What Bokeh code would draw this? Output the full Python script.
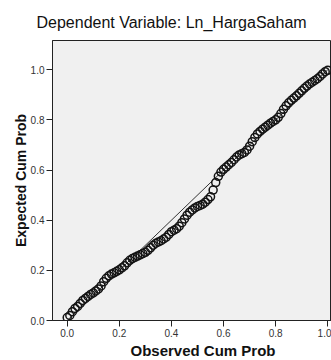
from bokeh.plotting import figure
from bokeh.models import FixedTicker, NumeralTickFormatter, Range1d, Title
from bokeh.embed import file_html
from bokeh.resources import INLINE

# Observed vs expected cumulative probability (Normal P-P plot)
observed_cum_prob = [
    0.00, 0.01, 0.02, 0.03, 0.04, 0.05, 0.06, 0.07, 0.08, 0.09,
    0.10, 0.11, 0.12, 0.13, 0.14, 0.15, 0.16, 0.17, 0.18, 0.19,
    0.20, 0.21, 0.22, 0.23, 0.24, 0.25, 0.26, 0.27, 0.28, 0.29,
    0.30, 0.31, 0.32, 0.33, 0.34, 0.35, 0.36, 0.37, 0.38, 0.39,
    0.40, 0.41, 0.42, 0.43, 0.44, 0.45, 0.46, 0.47, 0.48, 0.49,
    0.50, 0.51, 0.52, 0.53, 0.54, 0.55, 0.56, 0.57, 0.58, 0.59,
    0.60, 0.61, 0.62, 0.63, 0.64, 0.65, 0.66, 0.67, 0.68, 0.69,
    0.70, 0.71, 0.72, 0.73, 0.74, 0.75, 0.76, 0.77, 0.78, 0.79,
    0.80, 0.81, 0.82, 0.83, 0.84, 0.85, 0.86, 0.87, 0.88, 0.89,
    0.90, 0.91, 0.92, 0.93, 0.94, 0.95, 0.96, 0.97, 0.98, 0.99,
    1.00,
]
expected_cum_prob = [
    0.012, 0.020, 0.035, 0.048, 0.056, 0.068, 0.080, 0.088, 0.096, 0.104,
    0.110, 0.118, 0.126, 0.138, 0.155, 0.168, 0.178, 0.185, 0.190, 0.196,
    0.202, 0.210, 0.218, 0.230, 0.240, 0.247, 0.252, 0.257, 0.262, 0.267,
    0.272, 0.280, 0.290, 0.300, 0.308, 0.313, 0.318, 0.325, 0.332, 0.343,
    0.354, 0.360, 0.366, 0.376, 0.390, 0.405, 0.420, 0.432, 0.441, 0.449,
    0.455, 0.459, 0.464, 0.472, 0.482, 0.493, 0.520, 0.550, 0.575, 0.592,
    0.603, 0.612, 0.621, 0.630, 0.641, 0.652, 0.660, 0.665, 0.670, 0.680,
    0.695, 0.713, 0.730, 0.744, 0.754, 0.763, 0.771, 0.779, 0.787, 0.794,
    0.800, 0.810, 0.825, 0.842, 0.856, 0.868, 0.878, 0.887, 0.896, 0.906,
    0.916, 0.926, 0.935, 0.943, 0.950, 0.957, 0.964, 0.973, 0.983, 0.992,
    0.998,
]
reference_x = [0.0, 1.0]
reference_y = [0.0, 1.0]
tick_values = [0.0, 0.2, 0.4, 0.6, 0.8, 1.0]

title_text = "Dependent Variable: Ln_HargaSaham"
x_label_text = "Observed Cum Prob"
y_label_text = "Expected Cum Prob"

p = figure(
    width=331, height=360,
    x_range=Range1d(-0.0564, 1.0142), y_range=Range1d(0.0, 1.1165),
    output_backend="svg", toolbar_location=None,
    min_border_left=52, min_border_right=0, min_border_top=40, min_border_bottom=40,
)

p.title.text = title_text
p.title.text_font = "Liberation Sans"
p.title.text_font_size = "16px"
p.title.text_font_style = "normal"
p.title.text_color = "#111111"
p.title.align = "left"
p.title.offset = -16
p.title.standoff = 20

p.background_fill_color = "#f0f0f0"
p.border_fill_color = "white"
p.outline_line_color = "#222222"
p.grid.visible = False

for ax in (p.xaxis[0], p.yaxis[0]):
    ax.ticker = FixedTicker(ticks=tick_values)
    ax.formatter = NumeralTickFormatter(format="0.0")
    ax.axis_line_color = "#222222"
    ax.major_tick_line_color = "#222222"
    ax.major_tick_out = 6
    ax.major_tick_in = 0
    ax.minor_tick_out = 0
    ax.minor_tick_in = 0
    ax.major_label_text_font = "Liberation Sans"
    ax.major_label_text_font_size = "10px"
    ax.major_label_text_color = "#333333"
    ax.major_label_standoff = 2
    ax.axis_label_text_font = "Liberation Sans"
    ax.axis_label_text_font_style = "bold"
    ax.axis_label_text_font_size = "14px"
    ax.axis_label_text_color = "#111111"

p.yaxis.axis_label = y_label_text
p.yaxis.axis_label_standoff = -1

x_title = Title(text=x_label_text, align="left", offset=78,
                text_font="Liberation Sans", text_font_size="15px",
                text_font_style="bold", text_color="#111111", standoff=0)
p.add_layout(x_title, "below")

p.line(reference_x, reference_y, line_color="#333333", line_width=1)
p.scatter(observed_cum_prob, expected_cum_prob, marker="circle", size=8,
          fill_alpha=0, line_color="#141414", line_width=1.5)

open("out.html", "w").write(file_html(p, INLINE))
